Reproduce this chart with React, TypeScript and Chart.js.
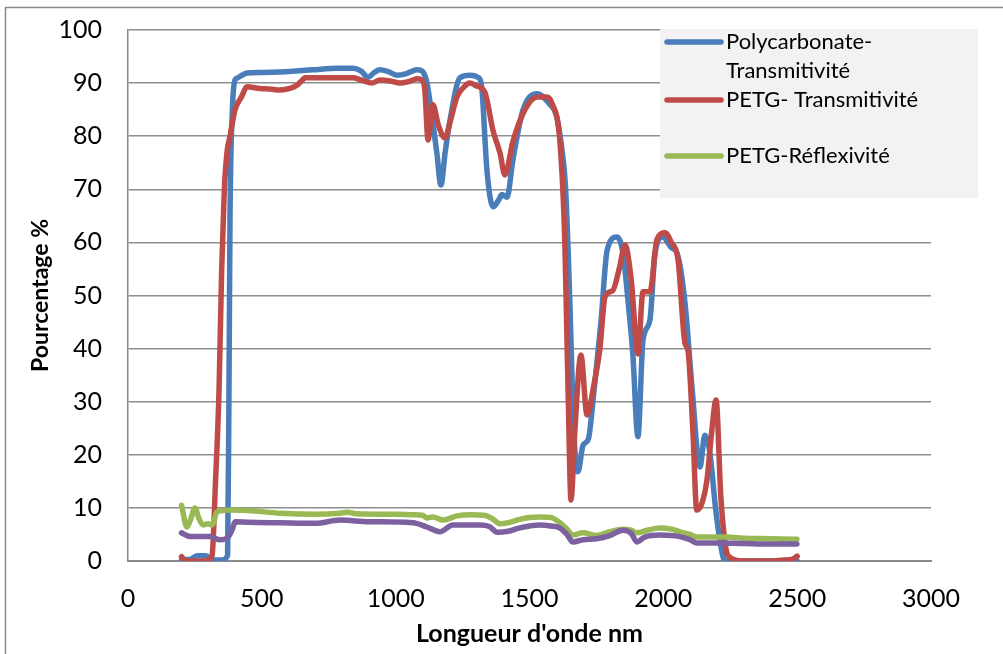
import React, { useEffect, useRef } from "react";
import { Chart, registerables } from "chart.js";

Chart.register(...registerables);

// Polycarbonate - Transmitivité
const pcX = [200, 230, 260, 290, 320, 350, 372, 377, 381, 390, 400, 410, 420, 444, 500, 568, 691, 781, 840, 870, 897, 920, 941, 970, 1005, 1040, 1080, 1100, 1117, 1135, 1154, 1169, 1185, 1203, 1240, 1277, 1310, 1322, 1341, 1364, 1385, 1397, 1416, 1438, 1476, 1528, 1576, 1600, 1620, 1635, 1650, 1665, 1681, 1700, 1720, 1737, 1767, 1790, 1826, 1849, 1870, 1886, 1905, 1924, 1950, 1969, 1998, 2030, 2051, 2081, 2107, 2137, 2155, 2174, 2195, 2211, 2230, 2260, 2300, 2400, 2500];
const pcY = [0.3, 0.3, 1, 1, 0.2, 0.2, 1, 30, 64, 85, 90.6, 91, 91.3, 91.9, 92, 92.1, 92.5, 92.8, 92.8, 92.3, 91.1, 92, 92.5, 92.2, 91.5, 91.8, 92.5, 92.2, 90, 84, 76.8, 70.8, 77, 83, 91, 91.5, 91, 89, 73.6, 66.7, 68, 69, 68.5, 75.5, 85, 88, 86, 84, 78, 70, 50, 25, 16.8, 21.8, 23, 30, 45, 58.5, 61, 58, 48, 39, 23.4, 41.6, 45.4, 58, 61, 59, 58, 48.6, 32.8, 17.7, 23.7, 20.3, 10, 4, 0, 0, 0, 0, 0];

// PETG - Transmitivité
const ptX = [200, 215, 250, 290, 306, 314, 327, 340, 350, 360, 370, 381, 400, 425, 444, 493, 530, 568, 605, 631, 650, 661, 700, 760, 840, 870, 911, 941, 980, 1016, 1050, 1080, 1100, 1109, 1121, 1139, 1160, 1184, 1205, 1229, 1260, 1277, 1300, 1333, 1364, 1390, 1408, 1438, 1483, 1528, 1560, 1584, 1614, 1632, 1645, 1655, 1670, 1692, 1715, 1740, 1763, 1782, 1812, 1835, 1857, 1880, 1905, 1924, 1950, 1976, 2006, 2030, 2055, 2081, 2092, 2110, 2125, 2145, 2163, 2180, 2197, 2215, 2235, 2249, 2300, 2400, 2450, 2480, 2500];
const ptY = [0.8, 0, 0, 0, 0.5, 1, 15, 32, 55, 70, 77, 80, 85, 87.5, 89.3, 89, 88.9, 88.7, 89, 89.6, 90.5, 91, 91, 91, 91, 90.6, 90, 90.6, 90.4, 90, 90.3, 90.8, 90.5, 88.7, 79.3, 85.9, 82, 79.7, 83, 87.4, 89.5, 90, 89.5, 88.3, 81, 76.8, 72.7, 79, 85, 87.4, 87.4, 86.2, 78.7, 60, 30, 11.5, 25, 38.8, 27.5, 33, 40, 49.7, 51, 55, 59.5, 53, 39, 50.7, 50.7, 60.5, 61.8, 60, 56.7, 41, 39.7, 25, 9.6, 11, 15.3, 24, 30.3, 12, 2, 0.7, 0, 0, 0.2, 0.3, 0.9];

// PETG - Réflexivité
const prX = [200, 220, 235, 250, 265, 280, 300, 314, 332, 350, 392, 450, 568, 700, 792, 820, 850, 1000, 1065, 1100, 1117, 1139, 1177, 1229, 1280, 1330, 1360, 1390, 1420, 1460, 1500, 1539, 1580, 1614, 1640, 1662, 1700, 1750, 1800, 1849, 1880, 1901, 1940, 1987, 2030, 2062, 2100, 2125, 2238, 2300, 2400, 2499];
const prY = [10.5, 6.4, 8, 10, 8, 6.8, 7, 6.8, 9.2, 9.5, 9.6, 9.5, 9, 8.8, 9, 9.2, 8.9, 8.8, 8.7, 8.6, 8.1, 8.3, 7.7, 8.5, 8.7, 8.6, 8, 7, 7.2, 7.8, 8.2, 8.3, 8.2, 7.2, 6, 4.9, 5.3, 4.8, 5.5, 6, 5.8, 5.3, 5.8, 6.2, 6, 5.5, 5, 4.5, 4.5, 4.3, 4.2, 4.1];

// Fourth series (not in legend)
const s4X = [200, 232, 306, 344, 374, 390, 400, 450, 568, 700, 792, 900, 1065, 1117, 1165, 1214, 1315, 1350, 1380, 1420, 1460, 1500, 1539, 1580, 1614, 1640, 1662, 1700, 1750, 1800, 1849, 1880, 1901, 1930, 1987, 2062, 2100, 2125, 2200, 2300, 2400, 2499];
const s4Y = [5.3, 4.6, 4.6, 4, 4.5, 6, 7.4, 7.3, 7.2, 7.1, 7.7, 7.4, 7.2, 6.4, 5.5, 6.8, 6.8, 6.5, 5.4, 5.6, 6.2, 6.6, 6.8, 6.6, 6.2, 5, 3.6, 4, 4.2, 4.8, 5.8, 5.2, 3.6, 4.5, 4.9, 4.6, 4, 3.4, 3.4, 3.3, 3.2, 3.2];

const legendNames = [["Polycarbonate-", "Transmitivité"], ["PETG- Transmitivité"], ["PETG-Réflexivité"]];
const colors = ["#4a7ebb", "#be4b48", "#98b954", "#7d60a0"];

const FONT = "Lato, 'Liberation Sans', sans-serif";

const zip = (xs: number[], ys: number[]) => xs.map((x, i) => ({ x, y: ys[i] }));

const framePlugin = {
  id: "frame",
  beforeDraw(chart: any) {
    const ctx = chart.ctx;
    ctx.save();
    ctx.fillStyle = "#ffffff";
    ctx.fillRect(0, 0, chart.width, chart.height);
    ctx.strokeStyle = "#8a8a8a";
    ctx.lineWidth = 1.5;
    ctx.strokeRect(5.5, 7.5, chart.width + 50, chart.height + 50);
    ctx.restore();
  },
};

const legendPlugin = {
  id: "boxLegend",
  afterDraw(chart: any) {
    const ctx = chart.ctx;
    ctx.save();
    ctx.fillStyle = "#f2f2f2";
    ctx.fillRect(660, 29, 318, 169);
    const rows = [[42, 71], [100], [156]];
    ctx.font = `22px ${FONT}`;
    ctx.textBaseline = "middle";
    ctx.textAlign = "left";
    legendNames.forEach((lines, i) => {
      ctx.strokeStyle = colors[i];
      ctx.lineWidth = 5.5;
      ctx.lineCap = "round";
      ctx.beginPath();
      ctx.moveTo(667, rows[i][0]);
      ctx.lineTo(721, rows[i][0]);
      ctx.stroke();
      ctx.fillStyle = "#000000";
      lines.forEach((t, j) => ctx.fillText(t, 726, rows[i][j]));
    });
    ctx.restore();
  },
};

export default function App() {
  const ref = useRef<HTMLCanvasElement>(null);
  useEffect(() => {
    document.body.style.margin = "0";
    const mk = (data: { x: number; y: number }[], color: string, order: number) => ({
      data,
      borderColor: color,
      backgroundColor: color,
      borderWidth: 5.5,
      pointRadius: 0,
      cubicInterpolationMode: "monotone" as const,
      borderCapStyle: "round" as const,
      borderJoinStyle: "round" as const,
      order,
      fill: false,
    });
    const chart = new Chart(ref.current as HTMLCanvasElement, {
      type: "line",
      data: {
        datasets: [
          { label: "Polycarbonate- Transmitivité", ...mk(zip(pcX, pcY), colors[0], 4) },
          { label: "PETG- Transmitivité", ...mk(zip(ptX, ptY), colors[1], 3) },
          { label: "PETG-Réflexivité", ...mk(zip(prX, prY), colors[2], 2) },
          { label: "", ...mk(zip(s4X, s4Y), colors[3], 1) },
        ],
      },
      options: {
        responsive: false,
        animation: false,
        devicePixelRatio: 1,
        layout: { padding: { left: 0, right: 72, top: 30, bottom: 0 } },
        plugins: { legend: { display: false }, tooltip: { enabled: false } },
        scales: {
          x: {
            type: "linear",
            min: 0,
            max: 3000,
            afterFit: (s: any) => { s.height = 93; },
            ticks: { stepSize: 500, padding: 23, color: "#000", font: { family: FONT, size: 25 }, maxRotation: 0, callback: (v: any) => String(v) },
            grid: { display: false, drawTicks: false },
            border: { display: true, color: "#8a8a8a", width: 2 },
            title: { display: true, text: "Longueur d'onde nm", color: "#000", font: { family: FONT, size: 25, weight: "bold" }, padding: { top: 0, bottom: 5 } },
          },
          y: {
            min: 0,
            max: 100,
            afterFit: (s: any) => { s.width = 128; s.paddingTop = 10; s.paddingBottom = 10; },
            ticks: { stepSize: 10, padding: 26, color: "#000", font: { family: FONT, size: 25 }, callback: (v: any) => String(v) },
            grid: { color: "#8e8e8e", lineWidth: 1.5, drawTicks: false },
            border: { display: true, color: "#8a8a8a", width: 1.5 },
            title: { display: true, text: "Pourcentage %", color: "#000", font: { family: FONT, size: 23, weight: "bold" }, padding: { top: 27, bottom: 0 } },
          },
        },
      },
      plugins: [framePlugin, legendPlugin],
    });
    return () => chart.destroy();
  }, []);
  return (
    <div style={{ position: "absolute", left: 0, top: 0, width: 1003, height: 654 }}>
      <canvas ref={ref} width={1003} height={654} style={{ display: "block" }} />
    </div>
  );
}
